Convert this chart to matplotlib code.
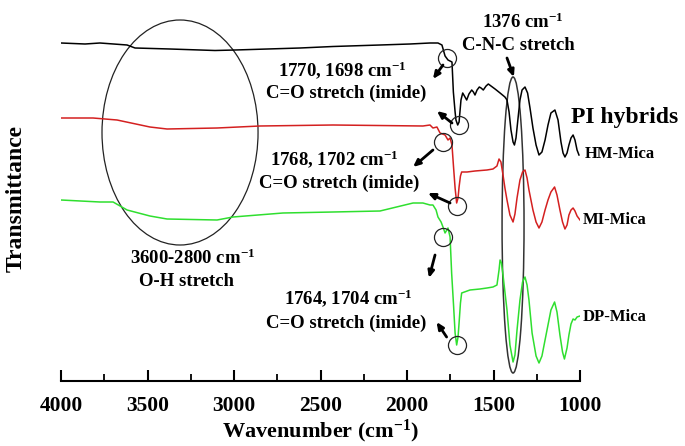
import matplotlib
matplotlib.use('Agg')
import matplotlib.pyplot as plt
from matplotlib.patches import Ellipse

plt.rcParams['font.family'] = ['Liberation Serif', 'DejaVu Serif']
plt.rcParams['font.weight'] = 'bold'
plt.rcParams['mathtext.fontset'] = 'custom'
plt.rcParams['mathtext.rm'] = 'Liberation Serif:bold'
plt.rcParams['mathtext.it'] = 'Liberation Serif:bold'
plt.rcParams['mathtext.bf'] = 'Liberation Serif:bold'

# HM-Mica (black)
hm_wn = [4000, 3861, 3775, 3618, 3572, 3370, 3110, 2994, 2618, 2428, 2156, 1983, 1867,
         1821, 1798, 1780, 1763, 1740, 1732, 1722, 1717, 1707, 1699, 1694, 1688,
         1678, 1668, 1655, 1642, 1626, 1616, 1607, 1595, 1582, 1572, 1559, 1543,
         1530, 1491, 1462, 1434, 1422, 1410, 1399, 1387, 1379, 1370, 1358, 1347,
         1335, 1318, 1303, 1289, 1272, 1254, 1237, 1220, 1202, 1185, 1168, 1145,
         1127, 1110, 1098, 1087, 1075, 1064, 1052, 1040, 1029, 1017, 1006]
hm_t = [33.8, 33.7, 33.8, 33.6, 33.3, 33.2, 33.05, 33.1, 33.3, 33.45, 33.6, 33.7, 33.8,
        33.8, 33.6, 32.5, 32.1, 31.9, 28.9, 26.9, 26.1, 25.6, 25.9, 26.9, 28.1,
        28.8, 28.5, 28.1, 28.7, 29.1, 28.9, 28.6, 29.1, 29.4, 29.3, 29.1, 29.5,
        29.7, 29.2, 28.8, 28.4, 28.1, 26.9, 25.1, 23.9, 23.6, 24.3, 26.3, 28.1,
        29.1, 29.4, 28.8, 27.3, 25.3, 23.6, 22.6, 22.9, 24.1, 25.6, 26.8, 27.1,
        26.1, 23.9, 22.8, 22.4, 22.8, 23.6, 24.3, 24.6, 24.1, 23.1, 22.6]

# MI-Mica (red)
mi_wn = [4000, 3815, 3676, 3486, 3387, 3098, 2850, 2428, 1908, 1867, 1850, 1827,
         1809, 1780, 1763, 1751, 1740, 1731, 1722, 1713, 1705, 1699, 1691, 1684,
         1653, 1607, 1538, 1503, 1480, 1468, 1457, 1445, 1434, 1422, 1405, 1387,
         1376, 1364, 1347, 1332, 1318, 1306, 1295, 1272, 1254, 1237, 1220, 1202,
         1185, 1168, 1147, 1133, 1116, 1101, 1087, 1075, 1064, 1052, 1040, 1029,
         1017, 1000]
mi_t = [26.3, 26.3, 26.1, 25.4, 25.2, 25.3, 25.5, 25.6, 25.5, 25.6, 25.3, 25.4,
        24.8, 24.6, 24.1, 24.3, 23.6, 21.4, 19.3, 17.8, 18.3, 19.4, 20.5, 20.9,
        20.9, 21.0, 21.1, 21.2, 21.5, 22.2, 21.9, 20.6, 19.3, 18.1, 16.6, 15.9,
        16.7, 18.3, 20.1, 20.9, 21.1, 20.3, 19.1, 17.1, 15.9, 15.3, 15.9, 17.1,
        18.1, 18.9, 19.4, 18.6, 17.1, 15.9, 15.2, 15.6, 16.6, 17.1, 17.3, 17.0,
        16.5, 16.1]

# DP-Mica (green)
dp_wn = [4000, 3775, 3699, 3618, 3486, 3387, 3098, 3006, 2717, 2428, 2156, 1965,
         1908, 1867, 1850, 1832, 1821, 1803, 1792, 1780, 1763, 1751, 1742, 1731,
         1722, 1713, 1705, 1699, 1691, 1684, 1636, 1578, 1538, 1503, 1480, 1468,
         1462, 1454, 1445, 1434, 1422, 1405, 1387, 1376, 1364, 1347, 1332, 1318,
         1306, 1295, 1277, 1254, 1237, 1220, 1202, 1185, 1168, 1147, 1133, 1116,
         1101, 1090, 1075, 1064, 1052, 1040, 1029, 1017, 1000]
dp_t = [18.1, 17.9, 17.9, 17.1, 16.5, 16.2, 16.1, 16.4, 16.8, 16.9, 17.0, 17.8,
        17.8, 17.6, 17.6, 17.1, 16.4, 15.9, 15.4, 14.8, 15.3, 14.4, 10.8, 7.6,
        4.8, 3.6, 4.4, 5.8, 7.8, 8.8, 9.1, 9.2, 9.3, 9.4, 9.6, 11.1,
        12.1, 11.8, 10.6, 8.9, 7.1, 3.6, 1.9, 2.6, 5.1, 8.1, 9.9, 10.4,
        9.6, 8.1, 4.8, 2.5, 1.8, 2.5, 4.1, 5.6, 7.1, 7.9, 6.9, 4.6,
        2.9, 2.2, 3.3, 4.6, 5.7, 6.2, 6.1, 6.4, 6.5]

# marked C=O bands (circles)
circ_wn = [1771, 1698, 1790, 1713, 1794, 1713]
circ_t = [32.3, 25.6, 23.9, 17.5, 14.4, 3.6]

fig = plt.figure(figsize=(6.85, 4.46), dpi=100)
ax = fig.add_axes([61 / 685, 65 / 446, 519 / 685, 381 / 446])

ax.plot(hm_wn, hm_t, color='black', lw=1.1)
ax.plot(mi_wn, mi_t, color='#d42020', lw=1.1)
ax.plot(dp_wn, dp_t, color='#2fdf2f', lw=1.1)

ax.plot(circ_wn, circ_t, 'o', ms=13, mfc='none', mec='#222222', mew=0.9)

# ellipses
ax.add_patch(Ellipse((3312, 24.85), 902, 22.5, fill=False, ec='#222222', lw=0.9))
ax.add_patch(Ellipse((1387, 15.6), 127, 29.6, fill=False, ec='#333333', lw=1.1))

ax.set_xlim(4000, 1000)
ax.set_ylim(0, 38.1)
for s in ['left', 'right', 'top']:
    ax.spines[s].set_visible(False)
ax.spines['bottom'].set_linewidth(1.5)
ax.set_yticks([])
ax.set_xticks([4000, 3500, 3000, 2500, 2000, 1500, 1000])
ax.set_xticks([3750, 3250, 2750, 2250, 1750, 1250], minor=True)
ax.tick_params(axis='x', which='major', direction='in', length=8, width=1.5,
               labelsize=15.5, pad=11)
ax.tick_params(axis='x', which='minor', direction='in', length=5, width=1.3)
ax.set_xlabel(r'Wavenumber (cm$^{-1}$)', fontsize=16, fontweight='bold', labelpad=1)
fig.text(16 / 685, 1 - 198 / 446, 'Transmittance', rotation=90, fontsize=17,
         fontweight='bold', ha='center', va='center')

fs = 13.5
ax.text(2376, 31.1, r'1770, 1698 cm$^{-1}$', fontsize=fs, ha='center', va='center')
ax.text(2353, 28.8, 'C=O stretch (imide)', fontsize=fs, ha='center', va='center')
ax.text(2422, 22.2, r'1768, 1702 cm$^{-1}$', fontsize=fs, ha='center', va='center')
ax.text(2393, 19.8, 'C=O stretch (imide)', fontsize=fs, ha='center', va='center')
ax.text(2341, 8.3, r'1764, 1704 cm$^{-1}$', fontsize=fs, ha='center', va='center')
ax.text(2353, 5.8, 'C=O stretch (imide)', fontsize=fs, ha='center', va='center')
ax.text(3237, 12.3, r'3600-2800 cm$^{-1}$', fontsize=fs, ha='center', va='center')
ax.text(3277, 9.9, 'O-H stretch', fontsize=fs, ha='center', va='center')
ax.text(1329, 35.9, r'1376 cm$^{-1}$', fontsize=fs, ha='center', va='center')
ax.text(1358, 33.6, 'C-N-C stretch', fontsize=fs, ha='center', va='center')
ax.text(1052, 26.4, 'PI hybrids', fontsize=17, ha='left', va='center')
ax.text(971, 22.7, 'HM-Mica', fontsize=12, ha='left', va='center')
ax.text(983, 16.1, 'MI-Mica', fontsize=12, ha='left', va='center')
ax.text(983, 6.4, 'DP-Mica', fontsize=12, ha='left', va='center')

# arrows (tail -> head)
arrows = [((1792, 31.6), (1850, 30.2)),
          ((1740, 25.8), (1827, 27.0)),
          ((1850, 23.1), (1965, 21.4)),
          ((1751, 17.8), (1879, 18.8)),
          ((1838, 12.6), (1873, 10.3)),
          ((1771, 4.4), (1829, 5.9)),
          ((1422, 32.3), (1382, 30.4))]
for tail, head in arrows:
    ax.annotate('', xy=head, xytext=tail,
                arrowprops=dict(arrowstyle='-|>,head_length=0.4,head_width=0.18',
                                color='black', lw=2.0, shrinkA=0, shrinkB=0))

fig.savefig('out.png', dpi=100)
